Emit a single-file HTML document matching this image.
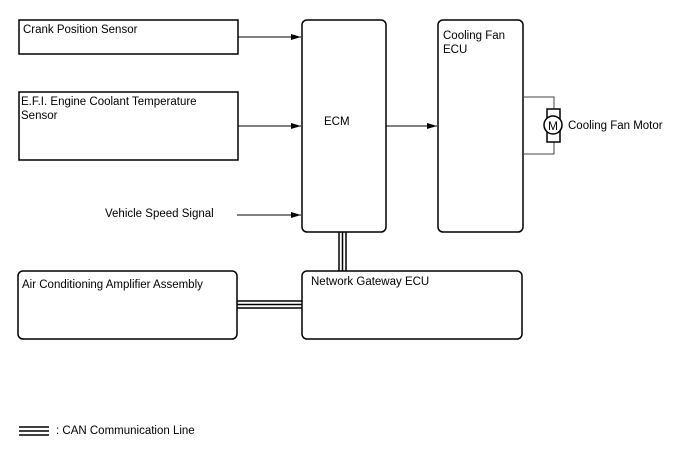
<!DOCTYPE html>
<html><head><style>
body{margin:0;background:#fff}
svg text{font-family:"Liberation Sans",Arial,sans-serif;font-size:11.5px;fill:#000}
</style></head><body>
<svg width="688" height="463" viewBox="0 0 688 463" xmlns="http://www.w3.org/2000/svg">
<defs><marker id="a" markerWidth="10" markerHeight="8" refX="10" refY="4" orient="auto" markerUnits="userSpaceOnUse"><path d="M0,1 L10,4 L0,7Z" fill="#000"/></marker></defs>
<g fill="none" stroke="#000" stroke-width="1.5">
<rect x="19" y="20" width="219" height="34"/>
<rect x="19" y="92" width="219" height="68"/>
<rect x="302" y="20" width="84" height="212" rx="5"/>
<rect x="438" y="20" width="85" height="212" rx="5"/>
<rect x="18" y="271" width="219" height="68" rx="5"/>
<rect x="302" y="271" width="220" height="68" rx="5"/>
</g>
<g stroke="#000" stroke-width="1">
<line x1="238" y1="37" x2="301" y2="37" marker-end="url(#a)"/>
<line x1="238" y1="126" x2="301" y2="126" marker-end="url(#a)"/>
<line x1="237" y1="215" x2="301" y2="215" marker-end="url(#a)"/>
<line x1="386" y1="126" x2="437" y2="126" marker-end="url(#a)"/>
</g>
<g fill="none" stroke="#444" stroke-width="1">
<polyline points="523,97 554,97 554,109"/>
<polyline points="523,154 554,154 554,142"/>
</g>
<rect x="547" y="109" width="13" height="33" fill="#fff" stroke="#000" stroke-width="1.5"/>
<circle cx="553" cy="125" r="9" fill="#fff" stroke="#000" stroke-width="1.5"/>
<text x="548" y="130" style="font-size:12px">M</text>
<g stroke="#000" stroke-width="1.5">
<line x1="339" y1="232" x2="339" y2="271"/><line x1="342.5" y1="232" x2="342.5" y2="271"/><line x1="346" y1="232" x2="346" y2="271"/>
<line x1="237" y1="301" x2="302" y2="301"/><line x1="237" y1="304.5" x2="302" y2="304.5"/><line x1="237" y1="308" x2="302" y2="308"/>
<line x1="19" y1="427" x2="49" y2="427"/><line x1="19" y1="431" x2="49" y2="431"/><line x1="19" y1="435" x2="49" y2="435"/>
</g>
<text x="23" y="33">Crank Position Sensor</text>
<text x="21" y="105">E.F.I. Engine Coolant Temperature</text>
<text x="21" y="119">Sensor</text>
<text x="105" y="217">Vehicle Speed Signal</text>
<text x="324" y="125">ECM</text>
<text x="443" y="39">Cooling Fan</text>
<text x="443" y="53">ECU</text>
<text x="568" y="129">Cooling Fan Motor</text>
<text x="22" y="288">Air Conditioning Amplifier Assembly</text>
<text x="311" y="285">Network Gateway ECU</text>
<text x="56" y="434">: CAN Communication Line</text>
</svg>
</body></html>
